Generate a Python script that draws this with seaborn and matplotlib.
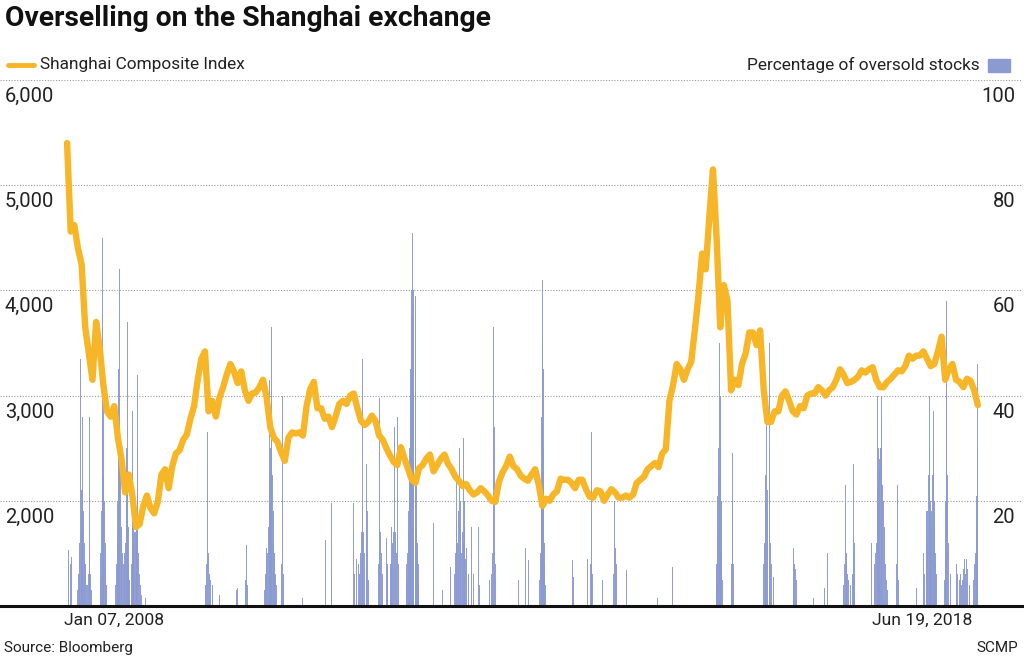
import pandas as pd
import matplotlib.pyplot as plt
import matplotlib.dates as mdates
import seaborn as sns
from matplotlib.lines import Line2D
from matplotlib.patches import Rectangle

# ── DATA ───────────────────────────────────────────────────
# Shanghai Composite Index, one value per half month
# (Jan 07, 2008 -> Jun 19, 2018)
sh_2008 = [5400, 4560, 4620, 4400, 4250, 3650, 3400, 3150, 3700, 3450, 3100, 2850,
           2800, 2900, 2600, 2400, 2080, 2250, 2050, 1750, 1780, 1950, 2050, 1930]
sh_2009 = [1880, 1990, 2250, 2300, 2120, 2330, 2450, 2480, 2580, 2630, 2780, 2900,
           3150, 3350, 3420, 2850, 2950, 2800, 2980, 3080, 3200, 3300, 3230, 3120]
sh_2010 = [3230, 3050, 2950, 3020, 3030, 3080, 3150, 2980, 2700, 2600, 2560, 2460,
           2380, 2600, 2650, 2640, 2650, 2620, 2900, 3060, 3130, 2880, 2880, 2780]
sh_2011 = [2800, 2700, 2800, 2920, 2950, 2920, 3000, 3020, 2880, 2760, 2720, 2750,
           2810, 2760, 2620, 2580, 2500, 2430, 2370, 2340, 2510, 2400, 2300, 2200]
sh_2012 = [2170, 2310, 2340, 2400, 2440, 2280, 2340, 2400, 2440, 2350, 2300, 2230,
           2190, 2140, 2160, 2100, 2060, 2080, 2120, 2090, 2050, 2000, 1990, 2180]
sh_2013 = [2270, 2330, 2420, 2330, 2300, 2240, 2210, 2190, 2250, 2300, 2150, 1950,
           2020, 2000, 2060, 2090, 2210, 2200, 2200, 2170, 2120, 2200, 2200, 2110]
sh_2014 = [2040, 2030, 2100, 2090, 2000, 2060, 2110, 2080, 2030, 2030, 2050, 2030,
           2060, 2170, 2200, 2230, 2300, 2330, 2360, 2320, 2450, 2490, 2950, 3100]
sh_2015 = [3300, 3250, 3150, 3250, 3320, 3620, 3950, 4350, 4200, 4700, 5150, 4500,
           3650, 4050, 3900, 3050, 3150, 3100, 3300, 3400, 3600, 3600, 3480, 3620]
sh_2016 = [3050, 2750, 2750, 2850, 2850, 3000, 3040, 2950, 2850, 2820, 2900, 2880,
           3000, 3020, 3020, 3080, 3050, 3000, 3050, 3080, 3150, 3250, 3200, 3120]
sh_2017 = [3130, 3150, 3180, 3240, 3220, 3250, 3270, 3150, 3080, 3080, 3130, 3160,
           3200, 3240, 3230, 3280, 3380, 3350, 3380, 3380, 3420, 3350, 3280, 3300]
sh_2018 = [3420, 3560, 3150, 3250, 3300, 3150, 3130, 3080, 3160, 3140, 3050, 2910]

index_values = (sh_2008 + sh_2009 + sh_2010 + sh_2011 + sh_2012 + sh_2013
                + sh_2014 + sh_2015 + sh_2016 + sh_2017 + sh_2018)

# Percentage of oversold stocks: (date, %) readings of the bars
bars_2008 = [("2008-01-11", 10.6), ("2008-01-22", 8), ("2008-01-25", 9.3),
             ("2008-02-20", 3), ("2008-02-24", 6), ("2008-02-27", 9), ("2008-03-01", 12),
             ("2008-03-04", 47), ("2008-03-06", 22), ("2008-03-08", 14), ("2008-03-11", 20),
             ("2008-03-13", 36), ("2008-03-15", 18), ("2008-03-18", 12), ("2008-03-21", 9),
             ("2008-03-24", 8), ("2008-03-27", 4),
             ("2008-04-02", 4), ("2008-04-04", 6), ("2008-04-09", 36), ("2008-04-12", 10),
             ("2008-04-15", 6), ("2008-04-18", 3),
             ("2008-05-25", 5), ("2008-05-28", 10), ("2008-05-31", 18), ("2008-06-02", 36),
             ("2008-06-05", 70), ("2008-06-07", 40), ("2008-06-09", 25), ("2008-06-11", 20),
             ("2008-06-14", 12), ("2008-06-17", 7), ("2008-06-20", 4),
             ("2008-07-29", 4), ("2008-08-01", 8), ("2008-08-04", 12), ("2008-08-06", 20),
             ("2008-08-09", 45), ("2008-08-11", 30), ("2008-08-13", 64), ("2008-08-15", 35),
             ("2008-08-17", 25), ("2008-08-20", 15), ("2008-08-23", 12), ("2008-08-26", 10),
             ("2008-08-29", 8), ("2008-09-02", 8), ("2008-09-05", 10), ("2008-09-08", 12),
             ("2008-09-11", 20), ("2008-09-13", 30), ("2008-09-15", 54), ("2008-09-17", 25),
             ("2008-09-19", 15), ("2008-09-22", 8), ("2008-09-25", 5),
             ("2008-10-03", 8), ("2008-10-06", 20), ("2008-10-08", 37), ("2008-10-10", 22),
             ("2008-10-13", 12), ("2008-10-16", 14), ("2008-10-20", 14), ("2008-10-22", 16),
             ("2008-10-24", 18), ("2008-10-27", 30), ("2008-10-28", 44), ("2008-10-30", 20),
             ("2008-11-03", 10), ("2008-11-06", 6), ("2008-11-10", 4), ("2008-11-14", 2),
             ("2008-12-01", 1.5)]
bars_2009 = [("2009-08-11", 4), ("2009-08-14", 8), ("2009-08-19", 33), ("2009-08-21", 10),
             ("2009-08-24", 6), ("2009-08-31", 5), ("2009-09-07", 4), ("2009-10-05", 2),
             ("2009-12-16", 3), ("2009-12-23", 3.5)]
bars_2010 = [("2010-01-25", 5), ("2010-01-28", 11.6), ("2010-02-02", 4),
             ("2010-04-13", 3), ("2010-04-16", 6), ("2010-04-20", 11), ("2010-04-23", 8),
             ("2010-04-27", 10), ("2010-04-30", 15), ("2010-05-04", 43), ("2010-05-06", 25),
             ("2010-05-08", 20), ("2010-05-10", 30), ("2010-05-12", 53), ("2010-05-14", 35),
             ("2010-05-17", 25), ("2010-05-19", 18), ("2010-05-21", 12), ("2010-05-24", 10),
             ("2010-05-27", 9), ("2010-05-31", 6), ("2010-06-02", 4),
             ("2010-06-25", 8), ("2010-06-29", 40), ("2010-07-02", 6),
             ("2010-09-20", 1.6), ("2010-12-24", 12.5)]
bars_2011 = [("2011-01-18", 19.6), ("2011-01-21", 6),
             ("2011-04-21", 19.6), ("2011-04-26", 6), ("2011-05-05", 9), ("2011-05-12", 8),
             ("2011-05-17", 6), ("2011-05-20", 10), ("2011-05-24", 14), ("2011-05-27", 47),
             ("2011-05-30", 18), ("2011-06-01", 14), ("2011-06-08", 10), ("2011-06-13", 12),
             ("2011-06-15", 27), ("2011-06-20", 18), ("2011-06-24", 5),
             ("2011-08-05", 8), ("2011-08-08", 15), ("2011-08-10", 39.5), ("2011-08-12", 14),
             ("2011-08-15", 10), ("2011-08-22", 6), ("2011-09-06", 13), ("2011-09-09", 7),
             ("2011-09-12", 8), ("2011-09-22", 8), ("2011-09-26", 15), ("2011-09-29", 9),
             ("2011-10-03", 12), ("2011-10-07", 14), ("2011-10-10", 34), ("2011-10-13", 14),
             ("2011-10-17", 10), ("2011-10-21", 36), ("2011-10-25", 8),
             ("2011-11-28", 5), ("2011-12-01", 8), ("2011-12-05", 10), ("2011-12-07", 14),
             ("2011-12-09", 18), ("2011-12-12", 25), ("2011-12-13", 30), ("2011-12-15", 40),
             ("2011-12-16", 45), ("2011-12-19", 50), ("2011-12-20", 55), ("2011-12-22", 60),
             ("2011-12-23", 71), ("2011-12-26", 55), ("2011-12-27", 50), ("2011-12-29", 57),
             ("2011-12-30", 60)]
bars_2012 = [("2012-01-04", 59), ("2012-01-05", 45), ("2012-01-07", 40), ("2012-01-10", 25),
             ("2012-01-12", 15), ("2012-01-13", 12), ("2012-01-16", 10), ("2012-01-18", 8),
             ("2012-01-20", 4), ("2012-03-23", 15.8), ("2012-04-28", 3), ("2012-06-02", 7.4),
             ("2012-06-18", 6), ("2012-06-20", 10), ("2012-06-25", 25), ("2012-06-27", 16),
             ("2012-06-29", 12), ("2012-07-02", 8), ("2012-07-05", 18), ("2012-07-09", 30),
             ("2012-07-11", 20), ("2012-07-13", 15), ("2012-07-16", 10), ("2012-07-20", 14),
             ("2012-07-23", 12), ("2012-07-26", 32), ("2012-07-28", 20), ("2012-07-31", 15),
             ("2012-08-03", 9), ("2012-08-06", 11), ("2012-08-14", 6), ("2012-08-28", 15),
             ("2012-09-04", 6), ("2012-09-25", 15), ("2012-09-28", 4),
             ("2012-11-12", 5), ("2012-11-20", 6), ("2012-11-23", 10), ("2012-11-27", 53),
             ("2012-11-30", 34), ("2012-12-04", 8)]
bars_2013 = [("2013-03-13", 5), ("2013-04-11", 11), ("2013-04-24", 8.7),
             ("2013-06-10", 5), ("2013-06-14", 10), ("2013-06-17", 20), ("2013-06-18", 36),
             ("2013-06-20", 62), ("2013-06-21", 50), ("2013-06-24", 45), ("2013-06-25", 30),
             ("2013-06-27", 16), ("2013-06-28", 12), ("2013-07-01", 8), ("2013-07-04", 4),
             ("2013-10-24", 8.7), ("2013-10-29", 5.5), ("2013-12-27", 9)]
bars_2014 = [("2014-01-08", 8), ("2014-01-11", 33), ("2014-01-14", 17.7), ("2014-01-17", 6),
             ("2014-03-01", 5), ("2014-04-15", 6), ("2014-04-18", 20), ("2014-04-22", 11),
             ("2014-04-28", 8), ("2014-06-09", 6.8), ("2014-10-14", 1.6), ("2014-12-18", 7.4)]
bars_2015 = [("2015-06-19", 4), ("2015-06-22", 8), ("2015-06-24", 14), ("2015-06-26", 21),
             ("2015-06-29", 30), ("2015-07-01", 25), ("2015-07-03", 50), ("2015-07-06", 22),
             ("2015-07-07", 30), ("2015-07-08", 40), ("2015-07-09", 20), ("2015-07-10", 10),
             ("2015-07-14", 5), ("2015-08-21", 8), ("2015-08-24", 29), ("2015-08-26", 20),
             ("2015-08-28", 10), ("2015-09-01", 8)]
bars_2016 = [("2016-01-05", 8), ("2016-01-07", 12), ("2016-01-11", 20), ("2016-01-13", 25),
             ("2016-01-15", 38), ("2016-01-18", 22), ("2016-01-19", 15), ("2016-01-21", 18),
             ("2016-01-26", 30), ("2016-01-28", 50), ("2016-01-29", 30), ("2016-02-01", 12),
             ("2016-02-04", 8), ("2016-02-15", 5.5),
             ("2016-05-06", 5), ("2016-05-09", 11), ("2016-05-12", 8), ("2016-05-16", 7),
             ("2016-05-20", 5), ("2016-08-01", 1.6), ("2016-09-14", 3.5), ("2016-09-28", 10),
             ("2016-12-05", 4), ("2016-12-08", 8), ("2016-12-12", 23), ("2016-12-14", 10),
             ("2016-12-16", 8), ("2016-12-19", 6), ("2016-12-22", 5)]
bars_2017 = [("2017-01-03", 4), ("2017-01-11", 6), ("2017-01-13", 10), ("2017-01-16", 27),
             ("2017-01-17", 12), ("2017-01-19", 6), ("2017-03-31", 12),
             ("2017-04-10", 4), ("2017-04-14", 8), ("2017-04-17", 10), ("2017-04-20", 12),
             ("2017-04-24", 22), ("2017-04-25", 40), ("2017-04-27", 30), ("2017-04-28", 25),
             ("2017-05-02", 22), ("2017-05-03", 28), ("2017-05-05", 26), ("2017-05-08", 30),
             ("2017-05-10", 35), ("2017-05-11", 40), ("2017-05-12", 30), ("2017-05-16", 23),
             ("2017-05-18", 20), ("2017-05-23", 15), ("2017-05-26", 8), ("2017-06-01", 5),
             ("2017-06-05", 3), ("2017-07-14", 8), ("2017-07-17", 23), ("2017-07-20", 5),
             ("2017-10-03", 3.5), ("2017-11-03", 10), ("2017-11-08", 6), ("2017-11-14", 18),
             ("2017-11-17", 10), ("2017-11-20", 12), ("2017-11-22", 18), ("2017-11-24", 25),
             ("2017-11-27", 30), ("2017-11-28", 40), ("2017-11-30", 28), ("2017-12-01", 20),
             ("2017-12-04", 14), ("2017-12-06", 15), ("2017-12-08", 18), ("2017-12-12", 25),
             ("2017-12-14", 30), ("2017-12-15", 37), ("2017-12-18", 20), ("2017-12-19", 15),
             ("2017-12-22", 10), ("2017-12-25", 8), ("2017-12-28", 6)]
bars_2018 = [("2018-01-30", 5), ("2018-02-02", 10), ("2018-02-05", 20), ("2018-02-06", 36),
             ("2018-02-08", 42), ("2018-02-09", 58), ("2018-02-12", 25), ("2018-02-14", 12),
             ("2018-02-23", 6), ("2018-03-20", 5), ("2018-03-23", 8), ("2018-03-27", 6),
             ("2018-04-02", 5), ("2018-04-09", 6), ("2018-04-13", 4), ("2018-04-17", 5),
             ("2018-04-20", 7), ("2018-04-24", 9), ("2018-04-27", 6), ("2018-05-02", 9),
             ("2018-05-08", 7), ("2018-05-14", 4), ("2018-06-01", 5), ("2018-06-06", 8),
             ("2018-06-11", 10), ("2018-06-13", 15), ("2018-06-15", 21), ("2018-06-18", 30),
             ("2018-06-19", 46)]

bar_rows = (bars_2008 + bars_2009 + bars_2010 + bars_2011 + bars_2012 + bars_2013
            + bars_2014 + bars_2015 + bars_2016 + bars_2017 + bars_2018)

left_ticks = [2000, 3000, 4000, 5000, 6000]
left_labels = ["2,000", "3,000", "4,000", "5,000", "6,000"]
right_ticks = [20, 40, 60, 80, 100]
right_labels = ["20", "40", "60", "80", "100"]

START, END = "2008-01-07", "2018-06-19"

# ── FRAMES ─────────────────────────────────────────────────
line_df = pd.DataFrame({
    "date": pd.date_range(START, END, periods=len(index_values)),
    "index": index_values,
})
bar_df = pd.DataFrame(bar_rows, columns=["date", "pct"])
bar_df["date"] = pd.to_datetime(bar_df["date"])

# ── STYLE ──────────────────────────────────────────────────
LINE_COLOR = "#F7B528"
BAR_COLOR = "#8C9AD2"
TEXT_DARK = "#222222"
GRID_COLOR = "#9A9A9A"

sns.set_style("white")
plt.rcParams["font.family"] = ["Roboto", "DejaVu Sans"]

fig = plt.figure(figsize=(10.24, 6.62), dpi=100)
ax = fig.add_axes([0.0, 1 - 606 / 662, 1022 / 1024, (606 - 80) / 662])
ax2 = ax.twinx()
ax.set_zorder(ax2.get_zorder() + 1)
ax.patch.set_visible(False)

# bars (percentage, right scale)
ax2.bar(bar_df["date"], bar_df["pct"], width=4.2, color=BAR_COLOR,
        linewidth=0, alpha=0.95)
ax2.set_ylim(0, 100)

# index line (left scale)
sns.lineplot(data=line_df, x="date", y="index", ax=ax, color=LINE_COLOR,
             linewidth=4.6, solid_capstyle="round", solid_joinstyle="round")
ax.set_ylim(1000, 6000)

x0 = pd.Timestamp(START) - pd.Timedelta(days=281)
x1 = pd.Timestamp(END) + pd.Timedelta(days=185)
ax.set_xlim(x0, x1)

# grid + axes clean-up
ax.set_yticks(left_ticks)
ax.grid(axis="y", linestyle=(0, (1, 1.5)), color=GRID_COLOR, linewidth=0.8)
ax.grid(axis="x", visible=False)
for a in (ax, ax2):
    a.set_xlabel("")
    a.set_ylabel("")
    a.tick_params(left=False, right=False, bottom=False,
                  labelleft=False, labelright=False, labelbottom=False)
    for side in ("top", "left", "right"):
        a.spines[side].set_visible(False)
ax2.spines["bottom"].set_visible(False)
ax2.set_yticks([])
ax.spines["bottom"].set_color("#111111")
ax.spines["bottom"].set_linewidth(2.2)

# tick labels just under each gridline
ytrans = ax.get_yaxis_transform()
for v, lbl in zip(left_ticks, left_labels):
    ax.annotate(lbl, xy=(0, v), xycoords=ytrans, xytext=(3.5, -5),
                textcoords="offset points", ha="left", va="top",
                fontsize=14.5, color=TEXT_DARK)
ytrans2 = ax2.get_yaxis_transform()
for v, lbl in zip(right_ticks, right_labels):
    ax2.annotate(lbl, xy=(1, v), xycoords=ytrans2, xytext=(-5, -5),
                 textcoords="offset points", ha="right", va="top",
                 fontsize=14.5, color=TEXT_DARK)

# start / end dates under the baseline
xtrans = ax.get_xaxis_transform()
ax.annotate("Jan 07, 2008", xy=(mdates.date2num(pd.Timestamp(START)), 0),
            xycoords=xtrans, xytext=(-2, -5), textcoords="offset points",
            ha="left", va="top", fontsize=12.6, color=TEXT_DARK)
ax.annotate("Jun 19, 2018", xy=(mdates.date2num(pd.Timestamp(END)), 0),
            xycoords=xtrans, xytext=(-4, -5), textcoords="offset points",
            ha="right", va="top", fontsize=12.6, color=TEXT_DARK)

# ── TITLE, LEGEND, FOOTER ──────────────────────────────────
fig.text(5 / 1024, 1 - 5 / 662, "Overselling on the Shanghai exchange",
         ha="left", va="top", fontsize=20.3, fontweight="bold", color="#111111")

fig.add_artist(Line2D([8 / 1024, 34 / 1024], [1 - 65 / 662, 1 - 65 / 662],
                      color=LINE_COLOR, linewidth=3.5))
fig.text(40 / 1024, 1 - 65 / 662, "Shanghai Composite Index", ha="left",
         va="center", fontsize=12.4, color=TEXT_DARK)

fig.add_artist(Rectangle((988 / 1024, 1 - 72 / 662), 22 / 1024, 13 / 662,
                         color=BAR_COLOR, transform=fig.transFigure))
fig.text(980 / 1024, 1 - 65 / 662, "Percentage of oversold stocks", ha="right",
         va="center", fontsize=12.4, color=TEXT_DARK)

fig.text(4 / 1024, 1 - 648 / 662, "Source: Bloomberg", ha="left", va="center",
         fontsize=11, color=TEXT_DARK)
fig.text(1018 / 1024, 1 - 648 / 662, "SCMP", ha="right", va="center",
         fontsize=11, color=TEXT_DARK)

fig.savefig("out.png", dpi=100, facecolor="white")
